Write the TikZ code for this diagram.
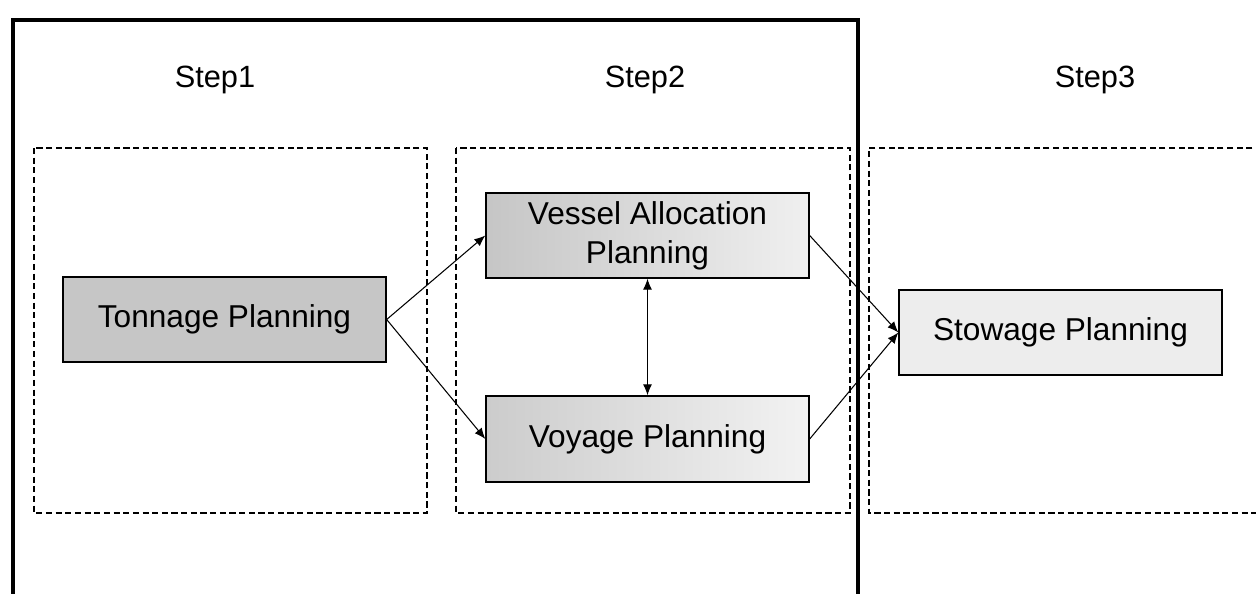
\documentclass[tikz,border=0pt]{standalone}
\usepackage{fontspec}
\setmainfont{Liberation Sans}
\usetikzlibrary{arrows.meta}
\tikzset{
  frameline/.style={line width=2.2pt, line cap=rect},
  stepbox/.style={draw, line width=0.6pt, dash pattern=on 3.5pt off 2pt},
  steplabel/.style={font=\fontsize{17.5}{21}\selectfont},
  plan/.style={draw, line width=0.8pt, inner sep=0pt, minimum width=6.46cm, minimum height=1.7cm,
    align=center, font=\fontsize{18}{22}\selectfont},
  conn/.style={line width=0.6pt, -{Latex[length=2.2mm,width=1.8mm]}},
}
\begin{document}
\begin{tikzpicture}[x=0.02cm, y=-0.02cm]
\useasboundingbox (0,0) rectangle (1256,594);
% thick frame (open at bottom)
\draw[frameline] (13,600) -- (13,20) -- (858,20) -- (858,600);
% step containers
\draw[stepbox] (34,148) rectangle (427,513);
\draw[stepbox] (456,148) rectangle (850,513);
\draw[stepbox] (1262,148) -- (869,148) -- (869,513) -- (1262,513);
% step labels
\node[steplabel] (s1) at (215,80) {Step1};
\node[steplabel] (s2) at (645,80) {Step2};
\node[steplabel] (s3) at (1095,80) {Step3};
% planning boxes
\node[plan, fill=gray!45] (ton) at (224.5,319.5) {Tonnage Planning};
\node[plan, left color=gray!45, right color=gray!12] (ves) at (647.5,235.5) {Vessel Allocation\\Planning};
\node[plan, left color=gray!40, right color=gray!10, minimum height=1.72cm] (voy) at (647.5,439) {Voyage Planning};
\node[plan, fill=gray!14] (sto) at (1060.5,332.5) {Stowage Planning};
% connectors
\draw[conn] (ton.east) -- (ves.west);
\draw[conn] (ton.east) -- (voy.west);
\draw[conn, {Latex[length=2.2mm,width=1.8mm]}-{Latex[length=2.2mm,width=1.8mm]}] (ves.south) -- (voy.north);
\draw[conn] (ves.east) -- (sto.west);
\draw[conn] (voy.east) -- (sto.west);
\end{tikzpicture}
\end{document}
